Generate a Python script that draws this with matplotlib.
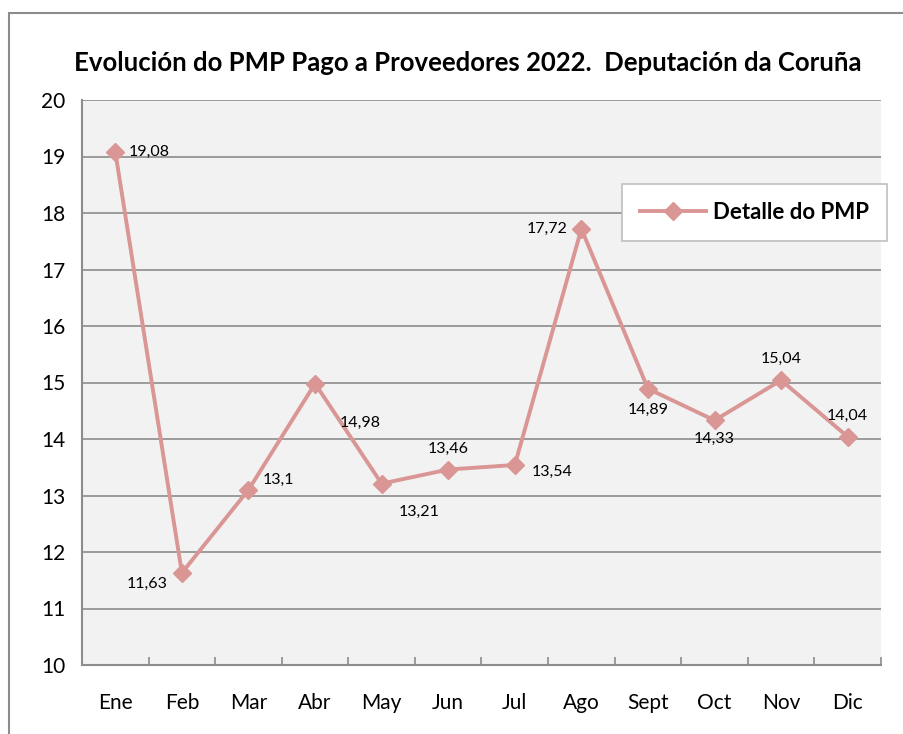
import matplotlib
matplotlib.use("Agg")
import matplotlib.pyplot as plt
from matplotlib.patches import Rectangle

months = ["Ene", "Feb", "Mar", "Abr", "May", "Jun", "Jul", "Ago", "Sept", "Oct", "Nov", "Dic"]
values = [19.08, 11.63, 13.1, 14.98, 13.21, 13.46, 13.54, 17.72, 14.89, 14.33, 15.04, 14.04]
labels = ["19,08", "11,63", "13,1", "14,98", "13,21", "13,46", "13,54", "17,72", "14,89", "14,33", "15,04", "14,04"]
yticks = [10, 11, 12, 13, 14, 15, 16, 17, 18, 19, 20]

# label offsets in points (dx, dy, ha, va)
offsets = [(10, 0, "left", "center"), (-10, -8, "right", "center"), (10, 7, "left", "center"),
           (18, -28, "left", "center"), (12, -20, "left", "center"), (0, 10, "center", "bottom"),
           (12, -5, "left", "center"), (-10, 0, "right", "center"), (0, -10, "center", "top"),
           (0, -8, "center", "top"), (0, 10, "center", "bottom"), (0, 10, "center", "bottom")]

plt.rcParams['font.family'] = ['Lato', 'DejaVu Sans']

fig = plt.figure(figsize=(9.04, 7.34), dpi=100)
fig.patches.append(Rectangle((9/904, -0.1), 1.2, (734-13)/734 + 0.1, transform=fig.transFigure,
                             fill=False, edgecolor="#8c8c8c", linewidth=1.5))
ax = fig.add_axes([82/904, 69/734, 799/904, 565/734])
ax.set_facecolor("#F2F2F2")

x = list(range(len(months)))
color = "#D99694"
ax.plot(x, values, color=color, linewidth=2.8, marker="D", markersize=9, label="Detalle do PMP", zorder=3)

for xi, v, lab, (dx, dy, ha, va) in zip(x, values, labels, offsets):
    ax.annotate(lab, (xi, v), xytext=(dx, dy), textcoords="offset points", ha=ha, va=va,
                fontsize=11.5, color="black")

ax.set_xlim(-0.5, len(months) - 0.5)
ax.set_ylim(10, 20)
ax.set_yticks(yticks)
ax.set_yticklabels([str(t) for t in yticks], fontsize=15)
ax.yaxis.grid(True, color="#8c8c8c", linewidth=1.2)
ax.set_axisbelow(True)
ax.tick_params(axis="y", length=0, pad=12)

ax.set_xticks(x)
ax.set_xticklabels(months, fontsize=15)
ax.tick_params(axis="x", length=0, pad=20)
ax.set_xticks([i - 0.5 for i in range(1, len(months) + 1)], minor=True)
ax.tick_params(axis="x", which="minor", direction="in", length=6, color="#8c8c8c", width=1.2)

for s in ["top", "right"]:
    ax.spines[s].set_visible(False)
for s in ["left", "bottom"]:
    ax.spines[s].set_color("#8c8c8c")
    ax.spines[s].set_linewidth(1.5)

fig.text(468/904, 1 - 63/734, "Evolución do PMP Pago a Proveedores 2022.  Deputación da Coruña",
         ha="center", va="center", fontsize=18.5, fontweight="bold")

leg = ax.legend(loc="upper left", bbox_to_anchor=((622-82)/799, (665-184)/565),
                prop={"weight": "bold", "size": 16}, frameon=True, fancybox=False,
                borderpad=0.8, borderaxespad=0, handlelength=3, handletextpad=0.3)
leg.get_frame().set_edgecolor("#bfbfbf")
leg.get_frame().set_linewidth(1.2)
leg.get_frame().set_facecolor("white")
leg.get_frame().set_alpha(1)

fig.savefig("out.png", dpi=100)
